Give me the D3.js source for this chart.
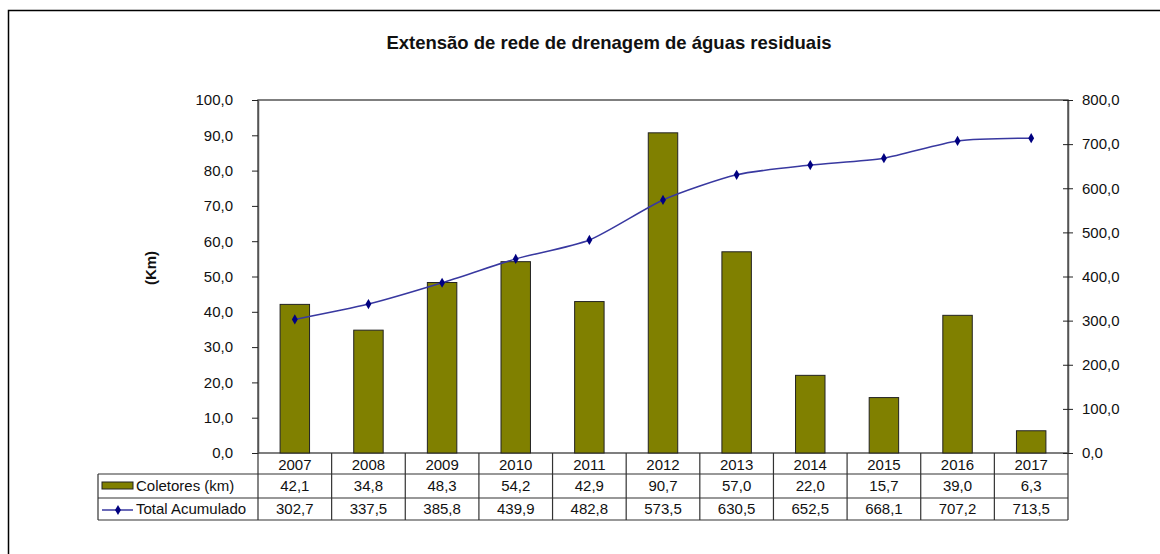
<!DOCTYPE html>
<html>
<head>
<meta charset="utf-8">
<script src="https://cdn.jsdelivr.net/npm/d3@7"></script>
<style>
  body { margin: 0; background: #fff; }
  svg text { font-family: "Liberation Sans", Arial, sans-serif; fill: #111; }
</style>
</head>
<body>
<div id="chart"></div>
<script>
var years = ["2007", "2008", "2009", "2010", "2011", "2012", "2013", "2014", "2015", "2016", "2017"];
var coletores = [42.1, 34.8, 48.3, 54.2, 42.9, 90.7, 57.0, 22.0, 15.7, 39.0, 6.3];
var acumulado = [302.7, 337.5, 385.8, 439.9, 482.8, 573.5, 630.5, 652.5, 668.1, 707.2, 713.5];
var leftTicks = [0, 10, 20, 30, 40, 50, 60, 70, 80, 90, 100];
var rightTicks = [0, 100, 200, 300, 400, 500, 600, 700, 800];
var seriesNames = ["Coletores (km)", "Total Acumulado"];

var width = 1160, height = 554;
var plot = {left: 258, right: 1068, top: 100, bottom: 453};
var fs = "15px";

var fmt = function(v) { return d3.format(".1f")(v).replace(".", ","); };

var svg = d3.select("#chart").append("svg")
    .attr("width", width)
    .attr("height", height);

// outer frame (right/bottom run off the picture)
svg.append("rect")
    .attr("x", 8.5).attr("y", 10.5)
    .attr("width", 1200).attr("height", 600)
    .attr("fill", "none").attr("stroke", "#000").attr("stroke-width", 1.5);

svg.append("text")
    .attr("x", 609).attr("y", 49)
    .attr("text-anchor", "middle")
    .style("font-size", "18.5px").style("font-weight", "bold")
    .text("Extensão de rede de drenagem de águas residuais");

var x = d3.scaleBand().domain(years).range([plot.left, plot.right]).paddingInner(0).paddingOuter(0);
var yL = d3.scaleLinear().domain([0, 100]).range([plot.bottom, plot.top]);
var yR = d3.scaleLinear().domain([0, 800]).range([plot.bottom, plot.top]);

// plot border
svg.append("rect")
    .attr("x", plot.left).attr("y", plot.top)
    .attr("width", plot.right - plot.left).attr("height", plot.bottom - plot.top)
    .attr("fill", "none").attr("stroke", "#555").attr("stroke-width", 1.5);

// left axis
var gL = svg.append("g")
    .attr("transform", "translate(" + plot.left + ",0)")
    .call(d3.axisLeft(yL).tickValues(leftTicks).tickFormat(fmt).tickSizeInner(6).tickSizeOuter(0).tickPadding(19));
gL.select(".domain").attr("stroke", "#555").attr("stroke-width", 1.5);
gL.selectAll(".tick line").attr("stroke", "#222");
gL.selectAll(".tick text").style("font-size", fs).attr("fill", "#111").style("font-family", "Liberation Sans, Arial, sans-serif");

// right axis (ticks cross the line)
var gR = svg.append("g")
    .attr("transform", "translate(" + plot.right + ",0)")
    .call(d3.axisRight(yR).tickValues(rightTicks).tickFormat(fmt).tickSizeInner(5).tickSizeOuter(0).tickPadding(9));
gR.select(".domain").attr("stroke", "#555").attr("stroke-width", 1.5);
gR.selectAll(".tick line").attr("x1", -5).attr("stroke", "#222");
gR.selectAll(".tick text").style("font-size", fs).attr("fill", "#111").style("font-family", "Liberation Sans, Arial, sans-serif");

// axis title
svg.append("text")
    .attr("transform", "translate(156,268) rotate(-90)")
    .attr("text-anchor", "middle")
    .style("font-size", fs).style("font-weight", "bold")
    .text("(Km)");

// bars
var barW = x.bandwidth() * 0.4;
svg.append("g").selectAll("rect")
    .data(coletores)
    .enter().append("rect")
    .attr("x", function(d, i) { return x(years[i]) + (x.bandwidth() - barW) / 2; })
    .attr("y", function(d) { return yL(d); })
    .attr("width", barW)
    .attr("height", function(d) { return yL(0) - yL(d); })
    .attr("fill", "#808000")
    .attr("stroke", "#222")
    .attr("stroke-width", 1);

// cumulative line
var line = d3.line()
    .x(function(d, i) { return x(years[i]) + x.bandwidth() / 2; })
    .y(function(d) { return yR(d); })
    .curve(d3.curveCardinal.tension(0.3));

svg.append("path")
    .datum(acumulado)
    .attr("d", line)
    .attr("fill", "none")
    .attr("stroke", "#3838a0")
    .attr("stroke-width", 1.5);

var diamond = d3.symbol().type(d3.symbolDiamond).size(30);
svg.append("g").selectAll("path")
    .data(acumulado)
    .enter().append("path")
    .attr("d", diamond)
    .attr("transform", function(d, i) { return "translate(" + (x(years[i]) + x.bandwidth() / 2) + "," + yR(d) + ")"; })
    .attr("fill", "#000080");

// data table
var rows = [plot.bottom, 474, 498, 520];
var tbl = svg.append("g").attr("stroke", "#333").attr("stroke-width", 1.2);
var tableLeft = 98;

// horizontal lines
tbl.append("line").attr("x1", plot.left).attr("x2", plot.right).attr("y1", rows[1]).attr("y2", rows[1]);
tbl.append("line").attr("x1", tableLeft).attr("x2", plot.left).attr("y1", rows[1]).attr("y2", rows[1]);
tbl.append("line").attr("x1", tableLeft).attr("x2", plot.right).attr("y1", rows[2]).attr("y2", rows[2]);
tbl.append("line").attr("x1", tableLeft).attr("x2", plot.right).attr("y1", rows[3]).attr("y2", rows[3]);
// vertical lines
tbl.append("line").attr("x1", tableLeft).attr("x2", tableLeft).attr("y1", rows[1]).attr("y2", rows[3]);
years.concat(["end"]).forEach(function(y, i) {
  var xx = i < years.length ? x(y) : plot.right;
  tbl.append("line").attr("x1", xx).attr("x2", xx).attr("y1", rows[0]).attr("y2", rows[3]);
});

var cellText = function(txt, cx, cy, anchor) {
  svg.append("text")
      .attr("x", cx).attr("y", cy)
      .attr("text-anchor", anchor || "middle")
      .attr("dy", "0.35em")
      .style("font-size", fs)
      .text(txt);
};

years.forEach(function(y, i) {
  var cx = x(y) + x.bandwidth() / 2;
  cellText(y, cx, (rows[0] + rows[1]) / 2 + 1);
  cellText(fmt(coletores[i]), cx, (rows[1] + rows[2]) / 2);
  cellText(fmt(acumulado[i]), cx, (rows[2] + rows[3]) / 2);
});

// legend keys
svg.append("rect")
    .attr("x", 102).attr("y", 482).attr("width", 31).attr("height", 7)
    .attr("fill", "#808000").attr("stroke", "#222").attr("stroke-width", 1);
cellText(seriesNames[0], 136, (rows[1] + rows[2]) / 2, "start");

svg.append("line")
    .attr("x1", 102).attr("x2", 133).attr("y1", 510).attr("y2", 510)
    .attr("stroke", "#3838a0").attr("stroke-width", 1.5);
svg.append("path")
    .attr("d", diamond)
    .attr("transform", "translate(118,510)")
    .attr("fill", "#000080");
cellText(seriesNames[1], 136, (rows[2] + rows[3]) / 2, "start");
</script>
</body>
</html>
